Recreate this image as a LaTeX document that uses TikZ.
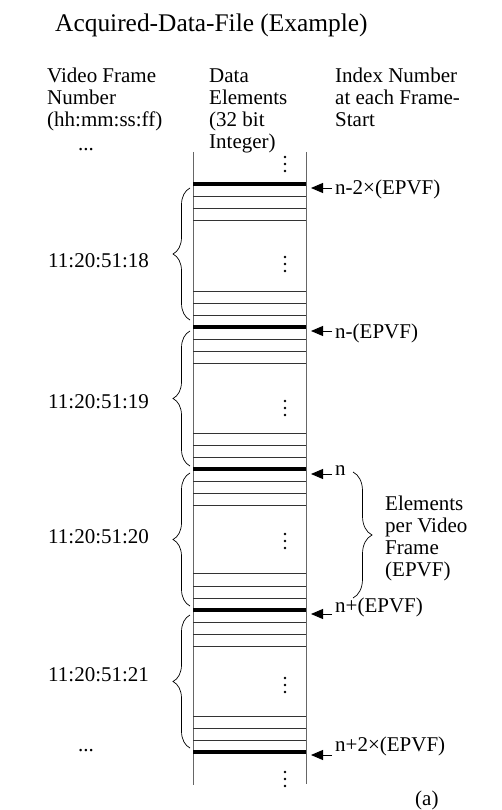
\documentclass[tikz,border=0pt]{standalone}
\usepackage{fontspec}
\setmainfont{Liberation Serif}
\usetikzlibrary{decorations.pathreplacing,arrows.meta}
\begin{document}
\begin{tikzpicture}[x=1pt,y=-1pt,
  lbl/.style={font=\fontsize{21}{22}\selectfont, inner sep=0pt},
  hdr/.style={lbl, align=left, anchor=base west},
  thinline/.style={line width=0.9pt, black!80},
  thickline/.style={line width=4.5pt},
  colline/.style={line width=0.9pt, black!60},
  lbrace/.style={decorate, decoration={brace, amplitude=17pt}, line width=0.7pt},
  rbrace/.style={decorate, decoration={brace, amplitude=19pt}, line width=0.7pt},
  idxarrow/.style={-{Triangle[length=12pt,width=10pt]}, line width=0.9pt},
]
\useasboundingbox (0,0) rectangle (502,810);

% title
\node[lbl, font=\fontsize{25.4}{28}\selectfont, anchor=base west] (title) at (55,32) {Acquired-Data-File (Example)};

% headers (anchor = baseline of last line)
\node[hdr] (hleft) at (47,127) {Video Frame\\Number\\(hh:mm:ss:ff)};
\node[hdr] (hmid) at (209,149) {Data\\Elements\\(32 bit\\Integer)};
\node[hdr] (hright) at (335,127) {Index Number\\at each Frame-\\Start};
\node[lbl, anchor=base] (dotstop) at (86,151) {...};
\node[lbl, anchor=base] (dotsbot) at (86,751) {...};

% column
\coordinate (ctl) at (193,152);
\coordinate (cbl) at (193,785);
\coordinate (ctr) at (306,152);
\coordinate (cbr) at (306,784);
\draw[colline] (ctl) -- (cbl);
\draw[colline] (ctr) -- (cbr);

% thin lines
\foreach \y in {196,208,220,
                291,303,315,339,351,363,
                433,445,457,481,493,505,
                573,586,598,622,634,646,
                716,728,740}
  \draw[thinline] (193,\y) -- (306,\y);
% thick lines
\foreach \y in {184,327,469,610,752}
  \draw[thickline] (193,\y) -- (306,\y);

% vertical dots
\foreach \c in {164,264,408,541,685,779}
  \foreach \d in {-7,0,7}
    \fill (285,\c+\d) circle (1.4pt);

% left braces and frame labels
\draw[lbrace] (190,320) -- (190,188);
\draw[lbrace] (190,466) -- (190,331);
\draw[lbrace] (190,606) -- (190,473);
\draw[lbrace] (190,748) -- (190,615);
\node[lbl, anchor=west] (f18) at (48,261) {11:20:51:18};
\node[lbl, anchor=west] (f19) at (48,402) {11:20:51:19};
\node[lbl, anchor=west] (f20) at (48,537) {11:20:51:20};
\node[lbl, anchor=west] (f21) at (48,675) {11:20:51:21};

% index arrows and labels
\foreach \i/\y in {1/188,2/331,3/474,4/614,5/755} {
  \coordinate (as\i) at (332,\y);
  \coordinate (ae\i) at (311,\y);
  \draw[idxarrow] (as\i) -- (ae\i);
}
\node[lbl, anchor=base west] (i1) at (335,195) {n-2×(EPVF)};
\node[lbl, anchor=base west] (i2) at (335,338) {n-(EPVF)};
\node[lbl, anchor=base west] (i3) at (335,475) {n};
\node[lbl, anchor=base west] (i4) at (335,612) {n+(EPVF)};
\node[lbl, anchor=base west] (i5) at (335,751) {n+2×(EPVF)};

% EPVF brace
\draw[rbrace] (353,472) -- (353,598);
\node[hdr] (epvf) at (385,576) {Elements\\per Video\\Frame\\(EPVF)};

\node[lbl, anchor=base west] (sub) at (415,805) {(a)};
\end{tikzpicture}
\end{document}
